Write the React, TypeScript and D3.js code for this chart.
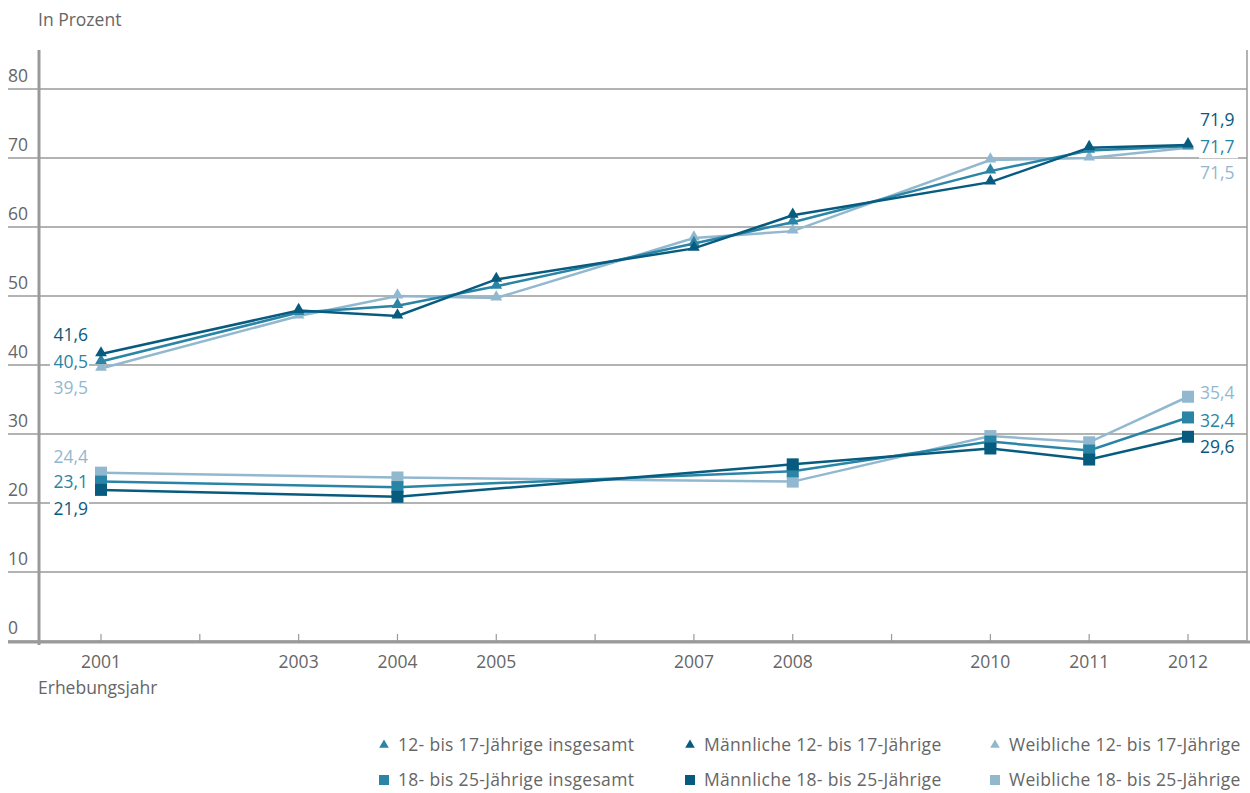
import * as d3 from "d3";

const years = [2001, 2002, 2003, 2004, 2005, 2006, 2007, 2008, 2009, 2010, 2011, 2012];
const yearLabels = [2001, 2003, 2004, 2005, 2007, 2008, 2010, 2011, 2012];
const yTicks = [0, 10, 20, 30, 40, 50, 60, 70, 80];

// 12- bis 17-Jährige
const youngYears = [2001, 2003, 2004, 2005, 2007, 2008, 2010, 2011, 2012];
const youngTotal = [40.5, 47.6, 48.6, 51.4, 57.6, 60.7, 68.1, 71.1, 71.7];
const youngMale = [41.6, 47.9, 47.1, 52.4, 56.9, 61.7, 66.5, 71.5, 71.9];
const youngFemale = [39.5, 47.1, 50.0, 49.7, 58.4, 59.4, 69.7, 70.0, 71.5];

// 18- bis 25-Jährige
const adultYears = [2001, 2004, 2008, 2010, 2011, 2012];
const adultTotal = [23.1, 22.3, 24.6, 28.9, 27.6, 32.4];
const adultMale = [21.9, 20.9, 25.6, 27.9, 26.3, 29.6];
const adultFemale = [24.4, 23.7, 23.1, 29.7, 28.8, 35.4];

const seriesNames = [
  "12- bis 17-Jährige insgesamt",
  "Männliche 12- bis 17-Jährige",
  "Weibliche 12- bis 17-Jährige",
  "18- bis 25-Jährige insgesamt",
  "Männliche 18- bis 25-Jährige",
  "Weibliche 18- bis 25-Jährige",
];

const MID = "#2a84a6";
const DARK = "#075b7e";
const LIGHT = "#92b8cf";
const GREY = "#9a9a9a";
const TEXT = "#666";
const FONT = "'Open Sans', Lato, sans-serif";
const FS = 17.5;

const width = 1250;
const height = 793;

const x = d3.scaleLinear().domain([2001, 2012]).range([101, 1188]);
const y = d3.scaleLinear().domain([0, 80]).range([641, 89]);

type Series = {
  name: string;
  years: number[];
  values: number[];
  color: string;
  shape: "tri" | "sq";
  // label offsets (start / end)
  dyStart: number;
  dyEnd: number;
};

const series: Series[] = [
  { name: seriesNames[2], years: youngYears, values: youngFemale, color: LIGHT, shape: "tri", dyStart: 19, dyEnd: 25 },
  { name: seriesNames[0], years: youngYears, values: youngTotal, color: MID, shape: "tri", dyStart: 0, dyEnd: 1 },
  { name: seriesNames[1], years: youngYears, values: youngMale, color: DARK, shape: "tri", dyStart: -19, dyEnd: -25 },
  { name: seriesNames[5], years: adultYears, values: adultFemale, color: LIGHT, shape: "sq", dyStart: -16, dyEnd: -4 },
  { name: seriesNames[3], years: adultYears, values: adultTotal, color: MID, shape: "sq", dyStart: 0, dyEnd: 3 },
  { name: seriesNames[4], years: adultYears, values: adultMale, color: DARK, shape: "sq", dyStart: 19, dyEnd: 10 },
];

const tri = d3.symbol().type(d3.symbolTriangle).size(60);

const fmt = (v: number) => v.toFixed(1).replace(".", ",");

function Marker({ shape, color, cx, cy }: { shape: string; color: string; cx: number; cy: number }) {
  if (shape === "tri") {
    return <path d={tri() as string} transform={`translate(${cx},${cy - 1})`} fill={color} />;
  }
  return <rect x={cx - 6} y={cy - 6} width={12} height={12} fill={color} />;
}

function Label({ tx, ty, text, color, anchor }: { tx: number; ty: number; text: string; color: string; anchor: "start" | "end" }) {
  const w = 37;
  const rx = anchor === "end" ? tx - w - 1 : tx - 1;
  return (
    <g>
      <rect x={rx} y={ty - 11} width={w + 2} height={22} fill="#fff" />
      <text x={tx} y={ty} dy="0.35em" textAnchor={anchor} fill={color} fontSize={FS}>
        {text}
      </text>
    </g>
  );
}

export default function App() {
  const line = d3
    .line<[number, number]>()
    .x((d) => x(d[0]))
    .y((d) => y(d[1]));

  const legendCols = [384, 690, 995];
  const legendRows = [745, 780];
  const legendItems = [
    { name: seriesNames[0], color: MID, shape: "tri" },
    { name: seriesNames[1], color: DARK, shape: "tri" },
    { name: seriesNames[2], color: LIGHT, shape: "tri" },
    { name: seriesNames[3], color: MID, shape: "sq" },
    { name: seriesNames[4], color: DARK, shape: "sq" },
    { name: seriesNames[5], color: LIGHT, shape: "sq" },
  ];

  return (
    <svg
      width={width}
      height={height}
      style={{ position: "absolute", left: 0, top: 0, fontFamily: FONT }}
    >
      <rect width={width} height={height} fill="#fff" />
      <text x={38} y={26} fill={TEXT} fontSize={FS}>
        In Prozent
      </text>

      {/* grid */}
      {yTicks.map((t) => (
        <g key={t}>
          <line x1={8} x2={1247} y1={y(t)} y2={y(t)} stroke={GREY} strokeWidth={1.5} />
          <text x={8} y={y(t) - 7} fill={TEXT} fontSize={FS}>
            {t}
          </text>
        </g>
      ))}
      <line x1={1247} x2={1247} y1={50} y2={642} stroke={GREY} strokeWidth={1.5} />

      {/* x axis */}
      <line x1={8} x2={1250} y1={642} y2={642} stroke={GREY} strokeWidth={3} />
      {years.map((yr) => (
        <line key={yr} x1={x(yr)} x2={x(yr)} y1={634} y2={642} stroke={GREY} strokeWidth={1.2} />
      ))}
      {yearLabels.map((yr) => (
        <text key={yr} x={x(yr)} y={668} textAnchor="middle" fill={TEXT} fontSize={FS}>
          {yr}
        </text>
      ))}
      <text x={38} y={694} fill={TEXT} fontSize={FS}>
        Erhebungsjahr
      </text>

      {/* y axis */}
      <line x1={39} x2={39} y1={50} y2={645} stroke={GREY} strokeWidth={3} />

      {/* lines */}
      {series.map((s) => (
        <path
          key={s.name}
          d={line(s.years.map((yr, i) => [yr, s.values[i]] as [number, number])) as string}
          fill="none"
          stroke={s.color}
          strokeWidth={2.5}
        />
      ))}
      {series.map((s) => (
        <g key={s.name + "m"}>
          {s.years.map((yr, i) => (
            <Marker key={yr} shape={s.shape} color={s.color} cx={x(yr)} cy={y(s.values[i])} />
          ))}
        </g>
      ))}

      {/* value labels */}
      {series.map((s) => {
        const n = s.values.length - 1;
        return (
          <g key={s.name + "l"}>
            <Label
              tx={x(s.years[0]) - 13}
              ty={y(s.values[0]) + s.dyStart}
              text={fmt(s.values[0])}
              color={s.color}
              anchor="end"
            />
            <Label
              tx={x(s.years[n]) + 12}
              ty={y(s.values[n]) + s.dyEnd}
              text={fmt(s.values[n])}
              color={s.color}
              anchor="start"
            />
          </g>
        );
      })}

      {/* legend */}
      {legendItems.map((it, i) => {
        const cx = legendCols[i % 3];
        const cy = legendRows[Math.floor(i / 3)];
        return (
          <g key={it.name}>
            {it.shape === "tri" ? (
              <path d={d3.symbol().type(d3.symbolTriangle).size(40)() as string} transform={`translate(${cx},${cy})`} fill={it.color} />
            ) : (
              <rect x={cx - 5} y={cy - 5} width={10} height={10} fill={it.color} />
            )}
            <text x={cx + 14} y={cy} dy="0.35em" fill={TEXT} fontSize={FS} letterSpacing={0.3}>
              {it.name}
            </text>
          </g>
        );
      })}
    </svg>
  );
}
